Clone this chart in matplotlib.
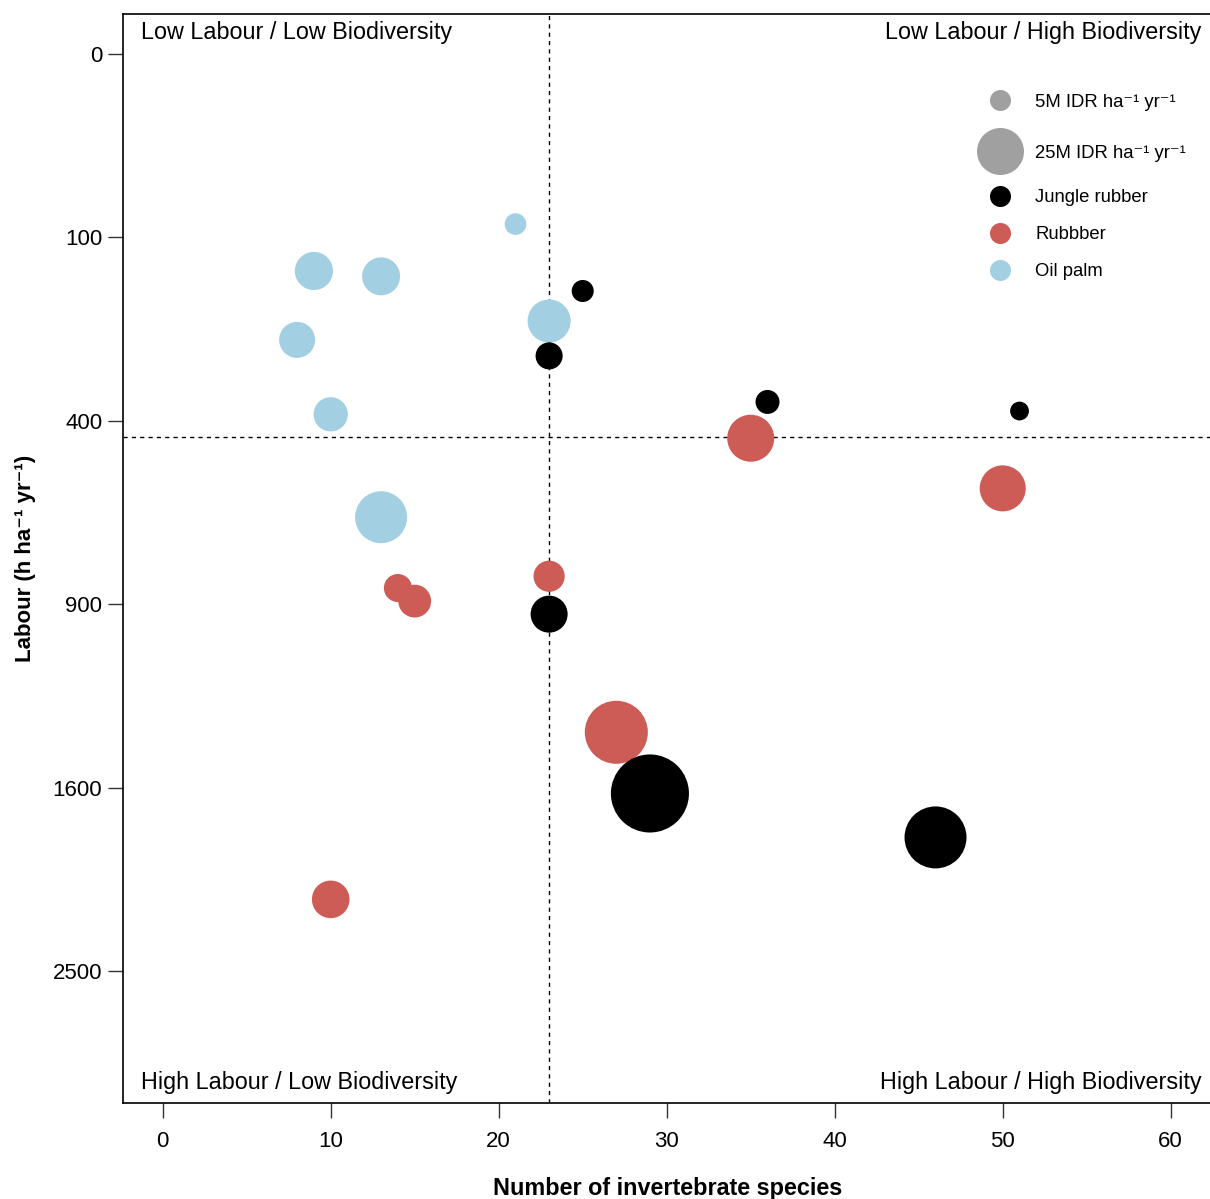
import numpy as np
import matplotlib.pyplot as plt
from matplotlib.lines import Line2D

plt.rcParams['font.family'] = ['Liberation Sans', 'DejaVu Sans']

# species richness, labour (h/ha/yr), revenue (M IDR/ha/yr)
jr_species = [25, 23, 36, 51, 23, 29, 46]
jr_labour = [167, 271, 360, 379, 933, 1626, 1825]
jr_revenue = [5.5, 8.3, 6.5, 4.0, 15.5, 69, 43.5]

rb_species = [35, 50, 23, 14, 15, 27, 10]
rb_labour = [439, 561, 811, 848, 890, 1368, 2125]
rb_revenue = [25, 24, 11, 8.9, 12.2, 45, 16]

op_species = [21, 9, 13, 8, 23, 10, 13]
op_labour = [86, 140, 147, 243, 212, 386, 638]
op_revenue = [5.3, 16.5, 16.3, 14.7, 21, 13.3, 30.6]

median_species = 23
median_labour = 436

col_jr = '#000000'
col_rb = '#CD5C57'
col_op = '#A3CFE3'
col_leg = '#A0A0A0'


def ms(v):
    # marker diameter in points, area proportional to revenue
    return 9.4 * np.sqrt(np.asarray(v, dtype=float)) * 0.72


def fwd(x):
    x = np.asarray(x, dtype=float)
    return np.sign(x) * np.sqrt(np.abs(x))


def inv(y):
    y = np.asarray(y, dtype=float)
    return np.sign(y) * y ** 2


fig = plt.figure(figsize=(12.1, 11.99), dpi=100)
ax = fig.add_axes([0.1017, 0.0801, 0.9, 0.9082])

ax.set_yscale('function', functions=(fwd, inv))

ax.axvline(median_species, color='black', ls=(0, (3, 3)), lw=1, zorder=1)
ax.axhline(median_labour, color='black', ls=(0, (3, 3)), lw=1, zorder=1)

ax.scatter(op_species, op_labour, s=ms(op_revenue) ** 2, color=col_op, edgecolors='none', zorder=3)
ax.scatter(rb_species, rb_labour, s=ms(rb_revenue) ** 2, color=col_rb, edgecolors='none', zorder=3)
ax.scatter(jr_species, jr_labour, s=ms(jr_revenue) ** 2, color=col_jr, edgecolors='none', zorder=3)

ax.set_xlim(-2.36, 62.46)
ax.set_ylim(inv(57.2), inv(-2.18))
ax.set_xticks([0, 10, 20, 30, 40, 50, 60])
ax.set_yticks([0, 100, 400, 900, 1600, 2500])
ax.set_yticklabels(['0', '100', '400', '900', '1600', '2500'])
ax.minorticks_off()
ax.tick_params(axis='both', labelsize=16, length=11, width=1, direction='out', color='#333333')
ax.tick_params(axis='x', pad=9)
ax.tick_params(axis='y', pad=4)
for sp in ax.spines.values():
    sp.set_linewidth(1.2)

ax.set_xlabel('Number of invertebrate species', fontsize=16.8, fontweight='bold', labelpad=18)
ax.set_ylabel('Labour (h ha⁻¹ yr⁻¹)', fontsize=16, fontweight='bold', labelpad=12)

qfs = 16.8
ax.text(0.0166, 0.983, 'Low Labour / Low Biodiversity', transform=ax.transAxes, fontsize=qfs, va='center', ha='left')
ax.text(0.99, 0.983, 'Low Labour / High Biodiversity', transform=ax.transAxes, fontsize=qfs, va='center', ha='right')
ax.text(0.0166, 0.019, 'High Labour / Low Biodiversity', transform=ax.transAxes, fontsize=qfs, va='center', ha='left')
ax.text(0.99, 0.019, 'High Labour / High Biodiversity', transform=ax.transAxes, fontsize=qfs, va='center', ha='right')

size_handles = [
    Line2D([], [], ls='none', marker='o', mec='none', mfc=col_leg, ms=ms(5), label='5M IDR ha⁻¹ yr⁻¹'),
    Line2D([], [], ls='none', marker='o', mec='none', mfc=col_leg, ms=ms(25), label='25M IDR ha⁻¹ yr⁻¹'),
]
type_handles = [
    Line2D([], [], ls='none', marker='o', mec='none', mfc=col_jr, ms=ms(5), label='Jungle rubber'),
    Line2D([], [], ls='none', marker='o', mec='none', mfc=col_rb, ms=ms(5), label='Rubbber'),
    Line2D([], [], ls='none', marker='o', mec='none', mfc=col_op, ms=ms(5), label='Oil palm'),
]
leg_kw = dict(loc='upper left', frameon=False, fontsize=13.3, handlelength=1.5,
              handletextpad=1.14, borderaxespad=0, borderpad=0)
leg1 = ax.legend(handles=size_handles, bbox_to_anchor=(0.793, 0.927), labelspacing=1.84, **leg_kw)
ax.add_artist(leg1)
ax.legend(handles=type_handles, bbox_to_anchor=(0.793, 0.839), labelspacing=1.08, **leg_kw)

fig.savefig('out.png', dpi=100)
